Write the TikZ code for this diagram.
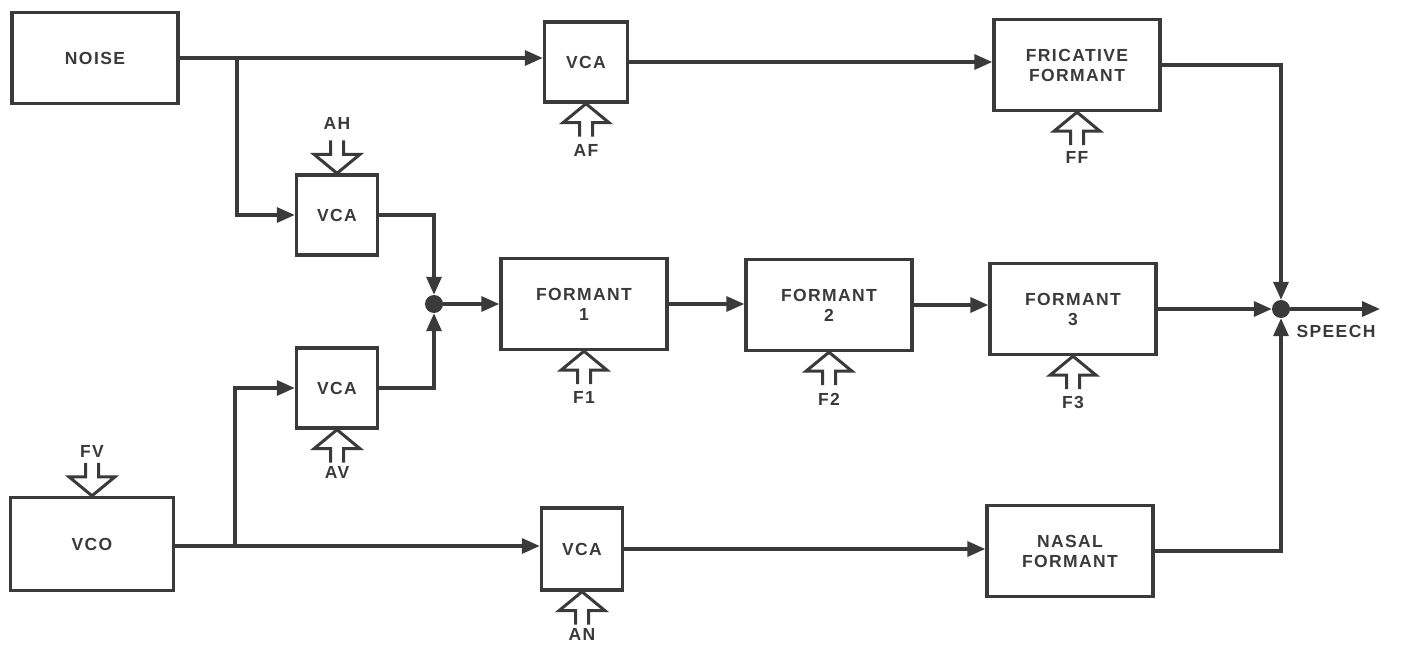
\documentclass[tikz,border=0pt]{standalone}
\usepackage{fontspec}
\setmainfont{Liberation Sans}[LetterSpace=8]
\usetikzlibrary{arrows.meta}
\definecolor{ink}{HTML}{3A3A3A}
\begin{document}
\begin{tikzpicture}[x=1pt,y=-1pt,
  every node/.style={font=\bfseries\fontsize{17.5}{20}\selectfont, text=ink},
  blk/.style={draw=ink, line width=3.4pt, inner sep=0pt, align=center},
  big/.style={blk, minimum width=166pt, minimum height=91pt},
  vca/.style={blk, minimum width=81pt, minimum height=80pt},
  lbl/.style={inner sep=0pt},
  jdot/.style={circle, fill=ink, draw=none, minimum size=18pt, inner sep=0pt},
  wire/.style={draw=ink, line width=3.4pt, line join=miter},
  arr/.style={wire, -{Triangle[length=18pt,width=15pt]}},
  ctrlup/.pic={\draw[draw=ink, line width=3pt, line join=miter]
     (-6.5,33) -- (-6.5,19) -- (-23,19) -- (0,0) -- (23,19) -- (6.5,19) -- (6.5,33);},
  ctrldown/.pic={\draw[draw=ink, line width=3pt, line join=miter]
     (-6.5,-33) -- (-6.5,-19) -- (-23,-19) -- (0,0) -- (23,-19) -- (6.5,-19) -- (6.5,-33);}
]
\useasboundingbox (0,0) rectangle (1414,647);
% boxes
\node[big] (noise) at (95,58) {NOISE};
\node[vca, minimum width=83pt, minimum height=80pt] (vcaF) at (586,62) {VCA};
\node[big] (fric) at (1077,65) {FRICATIVE\\FORMANT};
\node[vca] (vcaH) at (337,215) {VCA};
\node[vca] (vcaV) at (337,388) {VCA};
\node[big] (f1) at (584,304) {FORMANT\\1};
\node[big] (f2) at (829,305) {FORMANT\\2};
\node[big] (f3) at (1073,309) {FORMANT\\3};
\node[big, minimum width=163pt, minimum height=93pt] (vco) at (92,544) {VCO};
\node[vca, minimum height=82pt] (vcaN) at (582,549) {VCA};
\node[big] (nasal) at (1070,551) {NASAL\\FORMANT};
\node[jdot] (d1) at (434,304) {};
\node[jdot] (d2) at (1281,309) {};
\coordinate (bN) at (237,58);
\coordinate (bV) at (235,546);
\coordinate (out) at (1380,309);
% connectors
\draw[arr] (noise.east) -- (noise.east -| vcaF.west);
\draw[arr] (bN) |- (vcaH.west);
\draw[arr] (vcaF.east) -- (vcaF.east -| fric.west);
\draw[arr] (fric.east) -| (d2.north);
\draw[arr] (vcaH.east) -| (d1.north);
\draw[arr] (vcaV.east) -| (d1.south);
\draw[arr] (d1.east) -- (f1.west);
\draw[arr] (f1.east) -- (f1.east -| f2.west);
\draw[arr] (f2.east) -- (f2.east -| f3.west);
\draw[arr] (f3.east) -- (d2.west);
\draw[arr] (d2.east) -- (out);
\draw[arr] (vco.east |- bV) -- (bV -| vcaN.west);
\draw[arr] (bV) |- (vcaV.west);
\draw[arr] (vcaN.east) -- (vcaN.east -| nasal.west);
\draw[arr] (nasal.east) -| (d2.south);
% control inputs
\pic at (vcaF.south) {ctrlup};
\pic at (fric.south) {ctrlup};
\pic at (vcaH.north) {ctrldown};
\pic at (vcaV.south) {ctrlup};
\pic at (f1.south) {ctrlup};
\pic at (f2.south) {ctrlup};
\pic at (f3.south) {ctrlup};
\pic at (vco.north) {ctrldown};
\pic at (vcaN.south) {ctrlup};
% labels
\node[lbl] (lAF) at (586,150) {AF};
\node[lbl] (lFF) at (1077,157) {FF};
\node[lbl] (lAH) at (337,123) {AH};
\node[lbl] (lAV) at (337,472) {AV};
\node[lbl] (lF1) at (584,397) {F1};
\node[lbl] (lF2) at (829,399) {F2};
\node[lbl] (lF3) at (1073,402) {F3};
\node[lbl] (lFV) at (92,451) {FV};
\node[lbl] (lAN) at (582,634) {AN};
\node[lbl] (lSP) at (1336,331) {SPEECH};
\end{tikzpicture}
\end{document}
